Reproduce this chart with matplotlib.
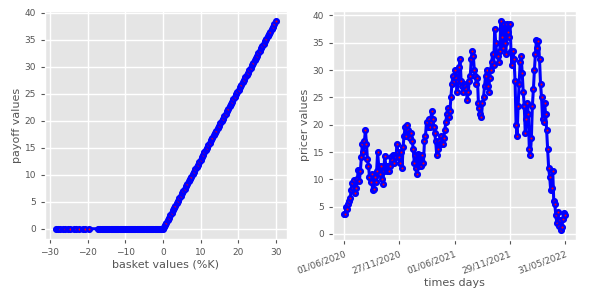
import matplotlib
matplotlib.use("Agg")
import matplotlib.pyplot as plt
import numpy as np

plt.style.use("ggplot")

basket_values = [
    -28.4, -27.8, -27.3, -26.6, -25.9, -25.3, -24.6, -23.6, -23.0, -22.2, -21.2, -20.6, -19.6,
    -17.2, -16.9, -16.6, -16.3, -16.0, -15.7, -15.4, -15.1, -14.8, -14.5, -14.2, -13.9,
    -13.6, -13.3, -13.0, -12.7, -12.4, -12.1, -11.8, -11.5, -11.2, -10.9, -10.6, -10.3,
    -10.0, -9.7, -9.4, -9.1, -8.8, -8.5, -8.2, -7.9, -7.6, -7.3, -7.0, -6.7, -6.4, -6.1,
    -5.8, -5.5, -5.2, -4.9, -4.6, -4.3, -4.0, -3.7, -3.4, -3.1, -2.8, -2.5, -2.2, -1.9,
    -1.6, -1.3, -1.0, -0.7, -0.4, -0.1,
    0.20, 0.55, 0.90, 1.25, 1.60, 1.95, 2.30, 2.65, 3.00, 3.35, 3.70, 4.05, 4.40, 4.75,
    5.10, 5.45, 5.80, 6.15, 6.50, 6.85, 7.20, 7.55, 7.90, 8.25, 8.60, 8.95, 9.30, 9.65,
    10.00, 10.35, 10.70, 11.05, 11.40, 11.75, 12.10, 12.45, 12.80, 13.15, 13.50, 13.85,
    14.20, 14.55, 14.90, 15.25, 15.60, 15.95, 16.30, 16.65, 17.00, 17.35, 17.70, 18.05,
    18.40, 18.75, 19.10, 19.45, 19.80, 20.15, 20.50, 20.85, 21.20, 21.55, 21.90, 22.25,
    22.60, 22.95, 23.30, 23.65, 24.00, 24.35, 24.70, 25.05, 25.40, 25.75, 26.10, 26.45,
    26.80, 27.15, 27.50, 27.85, 28.20, 28.55, 28.90, 29.25, 29.60, 30.00]
payoff_values = [0.0] * 71 + [
    0.26, 0.70, 1.15, 1.60, 2.05, 2.50, 2.94, 3.39, 3.84, 4.29, 4.74, 5.18, 5.63, 6.08,
    6.53, 6.98, 7.42, 7.87, 8.32, 8.77, 9.22, 9.66, 10.11, 10.56, 11.01, 11.46, 11.90, 12.35,
    12.80, 13.25, 13.70, 14.14, 14.59, 15.04, 15.49, 15.94, 16.38, 16.83, 17.28, 17.73,
    18.18, 18.62, 19.07, 19.52, 19.97, 20.42, 20.86, 21.31, 21.76, 22.21, 22.66, 23.10,
    23.55, 24.00, 24.45, 24.90, 25.34, 25.79, 26.24, 26.69, 27.14, 27.58, 28.03, 28.48,
    28.93, 29.38, 29.82, 30.27, 30.72, 31.17, 31.62, 32.06, 32.51, 32.96, 33.41, 33.86,
    34.30, 34.75, 35.20, 35.65, 36.10, 36.54, 36.99, 37.44, 37.89, 38.40]

pricer_values = [
    3.7, 3.6, 5.0, 4.5, 5.5, 6.0, 6.5, 8.0, 9.3, 8.5, 9.8, 7.5, 8.5, 10.0, 11.7, 9.7,
    11.5, 14.0, 16.5, 15.0, 17.0, 19.0, 16.5, 13.7, 12.5, 10.5, 9.5, 11.0, 8.0, 8.2,
    10.5, 9.5, 11.5, 15.0, 12.5, 11.0, 12.5, 10.0, 9.2, 11.5, 14.3, 12.5, 11.5, 12.5,
    11.5, 12.5, 14.0, 13.5, 14.5, 13.0, 14.5, 14.0, 16.5, 15.0, 14.0, 13.0, 15.0, 12.0,
    16.0, 18.0, 19.5, 18.0, 20.0, 19.0, 18.5, 17.5, 18.5, 17.0, 15.5, 13.0, 14.5, 12.0,
    11.0, 14.7, 12.5, 14.5, 12.5, 14.5, 13.0, 17.0, 18.0, 20.5, 19.5, 21.0, 19.5, 20.5,
    22.5, 21.0, 19.5, 18.5, 17.0, 14.5, 15.5, 17.0, 16.5, 18.0, 16.5, 16.5, 17.5, 19.0,
    20.5, 22.0, 23.0, 21.5, 22.5, 25.0, 27.5, 29.0, 28.0, 30.0, 28.5, 26.0, 28.0, 30.5,
    32.0, 28.0, 27.0, 26.0, 27.5, 27.0, 26.5, 24.5, 26.0, 28.0, 29.0, 32.0, 33.5, 32.5,
    30.0, 29.0, 27.5, 28.5, 24.0, 23.0, 22.0, 21.5, 24.0, 25.0, 27.0, 29.0, 30.0, 27.0,
    26.0, 28.5, 30.0, 31.5, 33.0, 31.0, 37.5, 35.0, 33.0, 32.5, 31.5, 33.5, 39.0, 36.0,
    34.0, 38.5, 35.0, 33.0, 38.5, 37.0, 36.0, 38.5, 33.5, 31.0, 33.5, 32.0, 28.0, 20.0,
    18.0, 23.5, 27.5, 31.5, 32.5, 29.5, 26.0, 23.5, 18.5, 21.0, 24.0, 22.0, 15.5, 14.5,
    17.5, 23.5, 26.5, 30.0, 33.0, 35.5, 34.0, 35.3, 32.0, 27.5, 25.0, 21.0, 20.5, 24.0,
    22.0, 19.0, 15.5, 12.0, 10.5, 8.0, 8.5, 11.5, 6.0, 5.5, 3.5, 2.0, 4.0, 1.5, 2.5,
    0.8, 1.2, 2.8, 3.8, 3.5]

date_labels = ["01/06/2020", "27/11/2020", "01/06/2021", "29/11/2021", "31/05/2022"]

fig = plt.figure(figsize=(6, 3), dpi=100)
ax1 = fig.add_axes([0.075, 0.203, 0.403, 0.76])
ax2 = fig.add_axes([0.555, 0.20, 0.405, 0.765])

mk = dict(marker="o", markersize=3.3, markerfacecolor="red", markeredgecolor="blue",
          markeredgewidth=1.8, color="blue", linewidth=2.2)

ax1.plot(basket_values, payoff_values, **mk)
ax1.set_xlabel("basket values (%K)", fontsize=8, color="#555555", labelpad=2)
ax1.set_ylabel("payoff values", fontsize=8, color="#555555", labelpad=2)
ax1.set_xticks([-30, -20, -10, 0, 10, 20, 30])
ax1.set_yticks(range(0, 41, 5))

x = np.arange(len(pricer_values))
ax2.plot(x, pricer_values, **mk)
ax2.set_xticks(np.linspace(0, len(pricer_values) - 1, len(date_labels)))
ax2.set_xticklabels(date_labels, rotation=20, ha="right", rotation_mode="anchor")
ax2.set_yticks(range(0, 41, 5))
ax2.set_xlabel("times days", fontsize=8, color="#555555", labelpad=2)
ax2.set_ylabel("pricer values", fontsize=8, color="#555555", labelpad=2)

for ax in (ax1, ax2):
    ax.tick_params(labelsize=6.5, colors="#555555", length=3)
    ax.grid(True, color="white", linewidth=1.0)

fig.savefig("out.png", dpi=100)
